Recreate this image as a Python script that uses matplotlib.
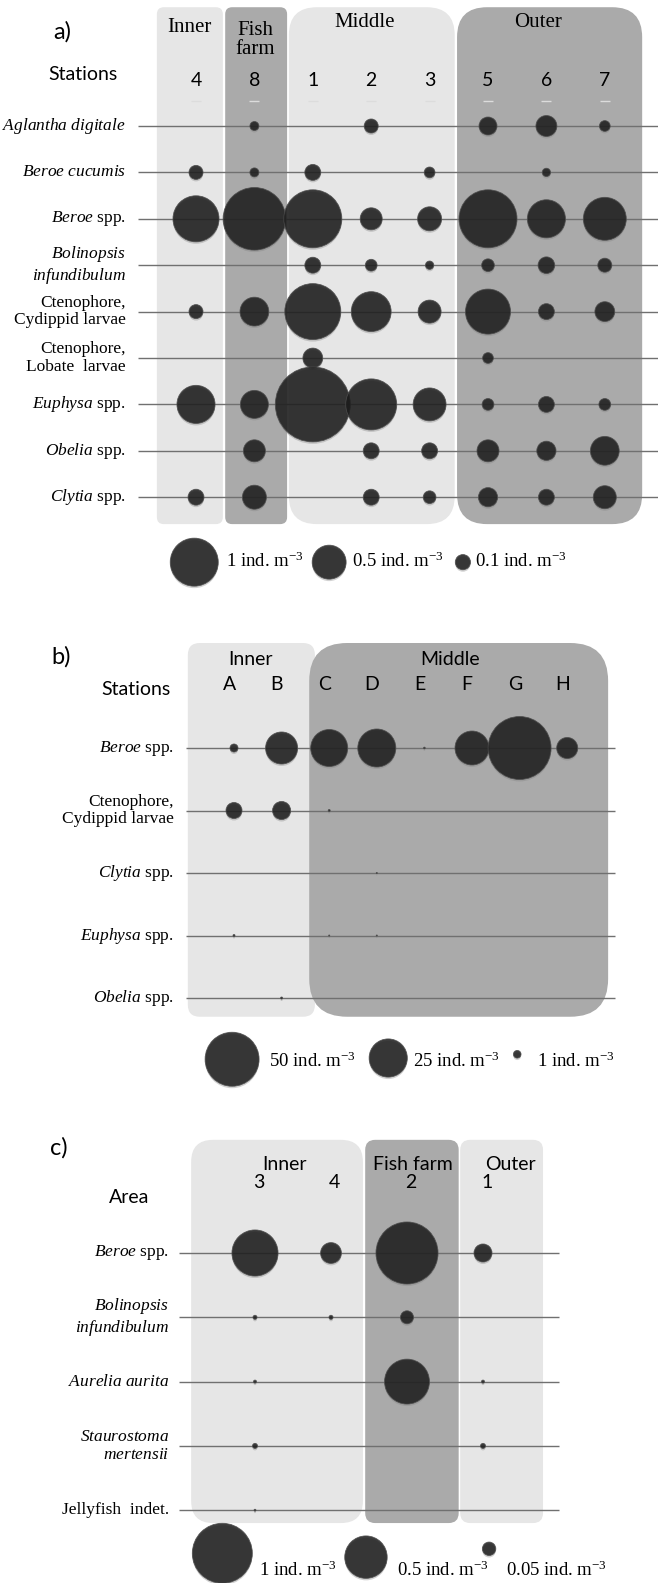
import numpy as np
import matplotlib.pyplot as plt
import matplotlib.transforms as mtransforms
from matplotlib.patches import FancyBboxPatch

plt.rcParams['mathtext.fontset'] = 'custom'
plt.rcParams['mathtext.rm'] = 'Liberation Serif'
plt.rcParams['mathtext.it'] = 'Liberation Serif:italic'

SANS = 'Lato'
SERIF = 'Liberation Serif'
LIGHT = '#e6e6e6'
DARK = '#aaaaaa'

# ---- a) stations 2013 (ind. m-3)
a_stations = ['4', '8', '1', '2', '3', '5', '6', '7']
a_species = [r'$\mathit{Aglantha\ digitale}$',
             r'$\mathit{Beroe\ cucumis}$',
             r'$\mathit{Beroe}$ spp.',
             '$\\mathit{Bolinopsis}$\n$\\mathit{infundibulum}$',
             'Ctenophore,\nCydippid larvae',
             'Ctenophore,\nLobate  larvae',
             r'$\mathit{Euphysa}$ spp.',
             r'$\mathit{Obelia}$ spp.',
             r'$\mathit{Clytia}$ spp.']
a_aglantha = [0, 0.035, 0, 0.085, 0, 0.14, 0.19, 0.05]
a_cucumis = [0.085, 0.035, 0.11, 0, 0.05, 0, 0.03, 0]
a_beroe = [0.92, 1.70, 1.46, 0.21, 0.25, 1.46, 0.63, 0.80]
a_bolinopsis = [0, 0, 0.11, 0.06, 0.03, 0.07, 0.12, 0.085]
a_cydippid = [0.085, 0.36, 1.36, 0.69, 0.23, 0.88, 0.11, 0.17]
a_lobate = [0, 0, 0.17, 0, 0, 0.05, 0, 0]
a_euphysa = [0.63, 0.34, 2.44, 1.13, 0.47, 0.06, 0.11, 0.06]
a_obelia = [0, 0.21, 0, 0.11, 0.11, 0.21, 0.16, 0.36]
a_clytia = [0.11, 0.25, 0, 0.11, 0.07, 0.16, 0.11, 0.23]
a_legend = [1, 0.5, 0.1]

# ---- b) stations A-H (ind. m-3)
b_stations = ['A', 'B', 'C', 'D', 'E', 'F', 'G', 'H']
b_species = [r'$\mathit{Beroe}$ spp.',
             'Ctenophore,\nCydippid larvae',
             r'$\mathit{Clytia}$ spp.',
             r'$\mathit{Euphysa}$ spp.',
             r'$\mathit{Obelia}$ spp.']
b_beroe = [1.1, 17.6, 23.5, 24.8, 0.05, 19.8, 68.0, 7.6]
b_cydippid = [4.4, 5.6, 0.07, 0, 0, 0, 0, 0]
b_clytia = [0, 0, 0, 0.02, 0, 0, 0, 0]
b_euphysa = [0.07, 0, 0.02, 0.02, 0, 0, 0, 0]
b_obelia = [0, 0.07, 0, 0, 0, 0, 0, 0]
b_legend = [50, 25, 1]

# ---- c) areas (ind. m-3)
c_stations = ['3', '4', '2', '1']
c_species = [r'$\mathit{Beroe}$ spp.',
             '$\\mathit{Bolinopsis}$\n$\\mathit{infundibulum}$',
             r'$\mathit{Aurelia\ aurita}$',
             '$\\mathit{Staurostoma}$\n$\\mathit{mertensii}$',
             'Jellyfish  indet.']
c_beroe = [0.59, 0.12, 1.07, 0.09]
c_bolinopsis = [0.0045, 0.0045, 0.047, 0]
c_aurelia = [0.0025, 0, 0.56, 0.0025]
c_staurostoma = [0.007, 0, 0, 0.007]
c_jellyfish = [0.001, 0, 0, 0]
c_legend = [1, 0.5, 0.05]

W, H = 658, 1583
fig = plt.figure(figsize=(W / 100, H / 100), dpi=100)


def panel(top, bottom, x0, dx, y0, dy):
    # one axes per panel, stations on x (index), species on y (index, downwards)
    ax = fig.add_axes([0, 1 - bottom / H, 1, (bottom - top) / H])
    ax.set_xlim(-x0 / dx, (W - x0) / dx)
    ax.set_ylim((bottom - y0) / dy, (top - y0) / dy)
    ax.set_axis_off()
    ax.aspect_px = dx / dy
    ax.dx = dx
    return ax


def region(ax, left, right, top, bottom, color, radius_px):
    r = radius_px / ax.dx
    box = FancyBboxPatch((left, top), right - left, bottom - top,
                         boxstyle=f'round,pad=0,rounding_size={r}',
                         mutation_aspect=ax.aspect_px,
                         fc=color, ec='none', zorder=0)
    ax.add_patch(box)


def bubbles(ax, xs, ys, vals, k):
    s = k * np.asarray(vals, float)
    shadow = mtransforms.offset_copy(ax.transData, fig=fig, x=0, y=-2, units='dots')
    ax.scatter(xs, ys, s=s, color='#808080', alpha=0.35, lw=0,
               transform=shadow, clip_on=False, zorder=2)
    ax.scatter(xs, ys, s=s, color='#1c1c1c', alpha=0.86, edgecolors='#4c4c4c',
               linewidths=0.6, clip_on=False, zorder=3)


def grid(ax, stations, species, table, k, label_x):
    rows = np.arange(len(species))
    ax.hlines(rows, -1, len(stations), color='#707070', lw=1.0, zorder=1)
    vals = np.array(table, float)
    yy, xx = np.nonzero(vals)
    bubbles(ax, xx, yy, vals[yy, xx], k)
    for j, name in enumerate(species):
        ax.text(label_x, j, name, ha='right', va='center', family=SERIF,
                fontsize=12.5, linespacing=1.12, zorder=4)


def legend(ax, xs, ys, tx, ty, values, unit_labels, k):
    bubbles(ax, xs, ys, values, k)
    for x, lab in zip(tx, unit_labels):
        ax.text(x, ty, lab + r' ind. m$^{\mathregular{-3}}$', ha='left', va='center',
                family=SERIF, fontsize=13.5, zorder=4)


# ---------------- panel a
ax = panel(0, 600, 196, 58.4, 126, 46.4)
for left, right, color, rad in [(-0.67, 0.46, LIGHT, 7), (0.50, 1.56, DARK, 7),
                                (1.59, 4.43, LIGHT, 28), (4.47, 7.64, DARK, 30)]:
    region(ax, left, right, -2.56, 8.58, color, rad)
grid(ax, a_stations, a_species,
     [a_aglantha, a_cucumis, a_beroe, a_bolinopsis, a_cydippid,
      a_lobate, a_euphysa, a_obelia, a_clytia], 1194.0, -1.2)
for i, st in enumerate(a_stations):
    ax.text(i, -0.99, st, ha='center', va='center', family=SANS, fontsize=14)
ax.scatter(np.arange(len(a_stations)), np.full(len(a_stations), -0.54),
           marker='_', s=60, color='#dcdcdc', lw=1)
ax.text(-2.29, -2.03, 'a)', ha='center', va='center', family=SANS, fontsize=17)
ax.text(-1.93, -1.10, 'Stations', ha='center', va='center', family=SANS, fontsize=14)
for x, y, lab in [(-0.12, -2.12, 'Inner'), (1.01, -1.85, 'Fish\nfarm'),
                  (2.89, -2.22, 'Middle'), (5.86, -2.22, 'Outer')]:
    ax.text(x, y, lab, ha='center', va='center', family=SERIF, fontsize=15,
            linespacing=1.0)
legend(ax, [-0.03, 2.28, 4.57], [9.40] * 3, [0.51, 2.67, 4.78], 9.38,
       a_legend, ['1', '0.5', '0.1'], 1194.0)

# ---------------- panel b
ax = panel(600, 1090, 234, 47.6, 748, 62.5)
region(ax, -0.97, 1.70, -1.68, 4.30, LIGHT, 12)
region(ax, 1.58, 7.86, -1.68, 4.30, DARK, 38)
grid(ax, b_stations, b_species,
     [b_beroe, b_cydippid, b_clytia, b_euphysa, b_obelia], 30.2, -1.26)
for i, st in enumerate(b_stations):
    ax.text(i - 0.1, -1.01, st, ha='center', va='center', family=SANS, fontsize=14)
ax.text(-3.63, -1.46, 'b)', ha='center', va='center', family=SANS, fontsize=17)
ax.text(-2.06, -0.93, 'Stations', ha='center', va='center', family=SANS, fontsize=14)
ax.text(0.34, -1.41, 'Inner', ha='center', va='center', family=SANS, fontsize=14)
ax.text(4.54, -1.41, 'Middle', ha='center', va='center', family=SANS, fontsize=14)
legend(ax, [-0.04, 3.24, 5.95], [4.98, 4.96, 4.90], [0.74, 3.76, 6.37], 5.02,
       b_legend, ['50', '25', '1'], 30.2)

# ---------------- panel c
ax = panel(1090, 1583, 255, 76.0, 1253, 64.3)
for left, right, color, rad in [(-0.84, 1.42, LIGHT, 22), (1.45, 2.68, DARK, 10),
                                (2.70, 3.79, LIGHT, 10)]:
    region(ax, left, right, -1.76, 4.20, color, rad)
grid(ax, c_stations, c_species,
     [c_beroe, c_bolinopsis, c_aurelia, c_staurostoma, c_jellyfish], 1866.0, -1.13)
for i, st in enumerate(c_stations):
    ax.text(i + 0.05, -1.09, st, ha='center', va='center', family=SANS, fontsize=14)
ax.text(-2.58, -1.63, 'c)', ha='center', va='center', family=SANS, fontsize=17)
ax.text(-1.66, -0.87, 'Area', ha='center', va='center', family=SANS, fontsize=14)
for x, lab in [(0.39, 'Inner'), (2.08, 'Fish farm'), (3.36, 'Outer')]:
    ax.text(x, -1.38, lab, ha='center', va='center', family=SANS, fontsize=14)
legend(ax, [-0.43, 1.46, 3.08], [4.67, 4.73, 4.60], [0.05, 1.87, 3.30], 4.93,
       c_legend, ['1', '0.5', '0.05'], 1866.0)

fig.savefig('out.png', dpi=100, facecolor='white')
